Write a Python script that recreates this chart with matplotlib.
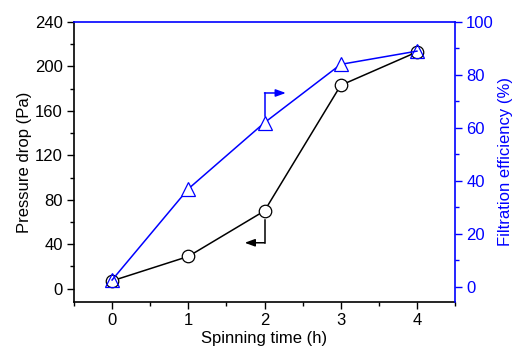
import matplotlib
matplotlib.use("Agg")
import matplotlib.pyplot as plt
from matplotlib.ticker import MultipleLocator

plt.rcParams['font.family'] = ['Liberation Sans', 'DejaVu Sans']

spin_time = [0, 1, 2, 3, 4]
pressure_drop = [7, 29, 70, 183, 213]
filtration_eff = [2.6, 37, 62, 84, 89]

BLUE = '#0000ff'
fig = plt.figure(figsize=(5.13, 3.49), dpi=100)
ax = fig.add_axes([0.1442, 0.1347, 0.887 - 0.1442, 0.937 - 0.1347])
ax2 = ax.twinx()

lw = 1.1
ax.plot(spin_time, pressure_drop, color='black', lw=lw, zorder=2)
ax.plot(spin_time, pressure_drop, ls='none', marker='o', ms=9, mfc='white', mec='black', mew=0.9, zorder=3)
ax.set_xlim(-0.5, 4.5)
ax.set_ylim(-12, 240)

ax2.plot(spin_time, filtration_eff, color=BLUE, lw=lw, zorder=2)
ax2.plot(spin_time[1:4], filtration_eff[1:4], ls='none', marker='^', ms=10, mfc='white', mec=BLUE, mew=0.9, zorder=4)
ax2.plot([spin_time[0], spin_time[4]], [filtration_eff[0], filtration_eff[4]], ls='none', marker='^', ms=10, mfc='none', mec=BLUE, mew=0.9, zorder=4)
ax2.set_ylim(-5.7, 100)

# arrows indicating axes
ax.plot([2, 2], [62, 41.3], color='black', lw=lw, zorder=2)
ax.annotate('', xy=(1.74, 41.3), xytext=(2.0, 41.3),
            arrowprops=dict(arrowstyle='-|>,head_length=0.6,head_width=0.22', color='black', lw=lw, shrinkA=0, shrinkB=0))
ax2.plot([2, 2], [64.5, 73.2], color=BLUE, lw=lw, zorder=2)
ax2.annotate('', xy=(2.28, 73.2), xytext=(2.0, 73.2),
             arrowprops=dict(arrowstyle='-|>,head_length=0.6,head_width=0.22', color=BLUE, lw=lw, shrinkA=0, shrinkB=0))

fs = 12
ax.xaxis.set_major_locator(MultipleLocator(1))
ax.xaxis.set_minor_locator(MultipleLocator(0.5))
ax.yaxis.set_major_locator(MultipleLocator(40))
ax.yaxis.set_minor_locator(MultipleLocator(20))
ax2.yaxis.set_major_locator(MultipleLocator(20))
ax2.yaxis.set_minor_locator(MultipleLocator(10))

ax.tick_params(axis='both', which='major', direction='out', length=5, width=1, labelsize=fs, colors='black', pad=3)
ax.tick_params(axis='both', which='minor', direction='out', length=3, width=1)
ax2.tick_params(axis='y', which='major', direction='out', length=5, width=1, labelsize=fs, colors=BLUE, pad=3)
ax2.tick_params(axis='y', which='minor', direction='out', length=3, width=1, colors=BLUE)

for a in (ax, ax2):
    for s in a.spines.values():
        s.set_linewidth(1.2)
ax.spines['left'].set_color('black')
ax.spines['bottom'].set_color('black')
ax2.spines['left'].set_visible(False)
ax2.spines['bottom'].set_visible(False)
ax2.spines['top'].set_color(BLUE)
ax2.spines['right'].set_color(BLUE)
ax.spines['top'].set_visible(False)
ax.spines['right'].set_visible(False)

ax.set_xlabel('Spinning time (h)', fontsize=fs, labelpad=2)
ax.set_ylabel('Pressure drop (Pa)', fontsize=fs, labelpad=2)
ax2.set_ylabel('Filtration efficiency (%)', fontsize=fs, color=BLUE, labelpad=3)

fig.savefig('out.png', dpi=100)
